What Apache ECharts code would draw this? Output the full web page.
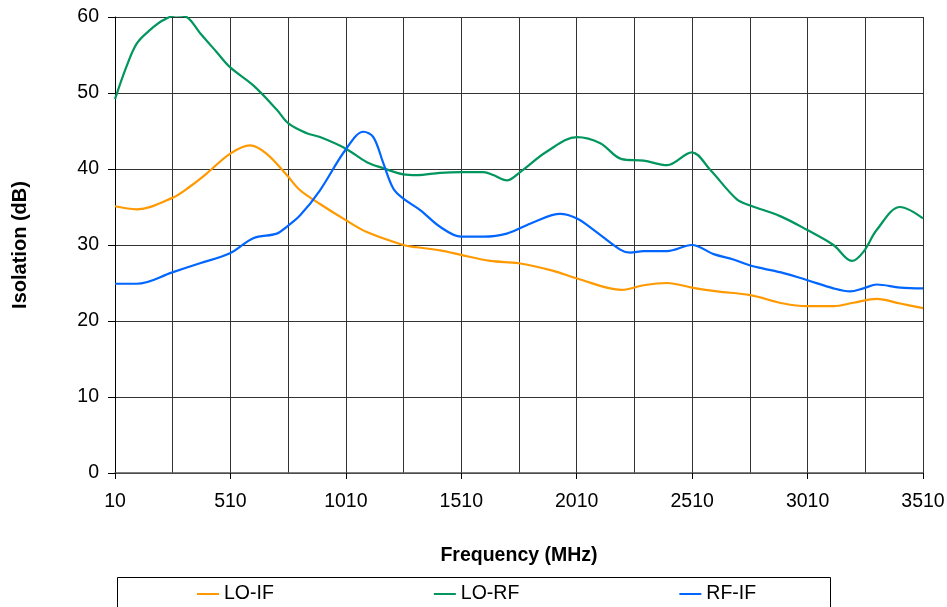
<!DOCTYPE html>
<html>
<head>
<meta charset="utf-8">
<script src="https://cdn.jsdelivr.net/npm/echarts@6/dist/echarts.min.js"></script>
<style>
  html, body { margin: 0; padding: 0; background: #fff; }
  #chart { width: 947px; height: 607px; }
</style>
</head>
<body>
<div id="chart"></div>
<script>
// Isolation vs frequency

const seriesNames = ['LO-IF', 'LO-RF', 'RF-IF'];
const seriesColors = ['#ff9900', '#00965e', '#0066ff'];

// [frequency MHz, isolation dB]
const loIf = [
    [10, 35.1], [104, 34.7], [258, 36.2], [335, 37.7], [407, 39.4], [508, 42.0],
    [595, 43.1], [667, 42.0], [754, 39.2], [812, 37.2], [898, 35.4], [1008, 33.3],
    [1101, 31.7], [1259, 30.0], [1317, 29.7], [1418, 29.3], [1509, 28.7], [1635, 27.9],
    [1759, 27.6], [1909, 26.6], [2011, 25.6], [2205, 24.1], [2300, 24.7], [2401, 25.0],
    [2509, 24.4], [2617, 23.9], [2762, 23.4], [2906, 22.3], [3007, 21.95], [3122, 21.95],
    [3209, 22.4], [3310, 22.9], [3411, 22.3], [3510, 21.7]
];

const loRf = [
    [10, 49.2], [60, 53.5], [104, 56.5], [162, 58.3], [220, 59.6], [275, 60.2],
    [320, 60.0], [378, 57.9], [450, 55.4], [508, 53.4], [609, 51.0], [711, 47.8], [761, 46.0],
    [841, 44.7], [898, 44.2], [1008, 42.7], [1101, 40.9], [1173, 40.1], [1259, 39.3],
    [1317, 39.2], [1418, 39.5], [1509, 39.6], [1606, 39.6], [1649, 39.2], [1707, 38.5],
    [1765, 39.6], [1881, 42.3], [2011, 44.2], [2112, 43.4], [2205, 41.3], [2300, 41.1],
    [2401, 40.5], [2509, 42.2], [2588, 39.9], [2704, 36.0], [2762, 35.2], [2891, 33.8],
    [3007, 32.0], [3122, 30.0], [3202, 27.9], [3252, 29.1], [3310, 32.0], [3411, 35.0],
    [3510, 33.5]
];

const rfIf = [
    [10, 24.9], [104, 24.9], [258, 26.4], [378, 27.6], [508, 28.9], [609, 30.9],
    [711, 31.5], [754, 32.4], [812, 33.9], [898, 37.2], [1008, 42.5], [1086, 44.9],
    [1129, 44.2], [1173, 40.7], [1216, 37.4], [1259, 36.1], [1332, 34.6], [1418, 32.4],
    [1509, 31.1], [1606, 31.1], [1707, 31.5], [1823, 33.0], [1938, 34.1], [2011, 33.5],
    [2083, 32.0], [2198, 29.4], [2242, 29.0], [2300, 29.2], [2401, 29.2], [2509, 30.0],
    [2603, 28.8], [2689, 28.1], [2762, 27.3], [2819, 26.9], [2906, 26.3], [3007, 25.4],
    [3122, 24.3], [3194, 23.9], [3252, 24.3], [3310, 24.8], [3411, 24.4], [3510, 24.3]
];

const xMin = 10, xMax = 3510, xStep = 500;
const yMin = 0, yMax = 60, yStep = 10;

const FONT = "'Liberation Sans', Arial, sans-serif";

const chart = echarts.init(document.getElementById('chart'), null, { renderer: 'canvas' });

const option = {
    backgroundColor: '#fff',
    animation: false,
    textStyle: { fontFamily: FONT, color: '#000' },
    grid: {
        left: 115, right: 24, top: 17, bottom: 134,
        containLabel: false,
        outerBoundsMode: 'none'
    },
    xAxis: {
        type: 'value',
        min: xMin, max: xMax, interval: xStep,
        name: 'Frequency (MHz)',
        nameLocation: 'middle',
        nameGap: 73,
        nameTextStyle: { fontFamily: FONT, fontSize: 19.5, fontWeight: 'bold', color: '#000' },
        axisLine: { show: true, lineStyle: { color: '#555', width: 1.5 } },
        axisTick: { show: true, length: 6, lineStyle: { color: '#000' } },
        axisLabel: {
            fontFamily: FONT, fontSize: 19.5, color: '#000', margin: 19,
            formatter: v => String(v)
        },
        splitLine: { show: true, lineStyle: { color: '#333', width: 1 } },
        minorTick: { show: false, splitNumber: 2 },
        minorSplitLine: { show: true, lineStyle: { color: '#333', width: 1 } }
    },
    yAxis: {
        type: 'value',
        min: yMin, max: yMax, interval: yStep,
        name: 'Isolation (dB)',
        nameLocation: 'middle',
        nameGap: 85,
        nameRotate: 90,
        nameTextStyle: { fontFamily: FONT, fontSize: 20, fontWeight: 'bold', color: '#000' },
        axisLine: { show: true, lineStyle: { color: '#000', width: 1 } },
        axisTick: { show: true, length: 7, lineStyle: { color: '#000' } },
        axisLabel: {
            fontFamily: FONT, fontSize: 19.5, color: '#000', margin: 16,
            formatter: v => String(v)
        },
        splitLine: { show: true, lineStyle: { color: '#333', width: 1 } }
    },
    legend: {
        data: seriesNames,
        left: 197,
        top: 584,
        padding: 0,
        itemGap: 160,
        itemWidth: 22,
        itemHeight: 2,
        icon: 'rect',
        textStyle: { fontFamily: FONT, fontSize: 19.5, color: '#000', lineHeight: 19 }
    },
    graphic: [{
        type: 'rect',
        silent: true,
        shape: { x: 117.5, y: 577.5, width: 713, height: 60 },
        style: { fill: 'none', stroke: '#000', lineWidth: 1 }
    }],
    series: [loIf, loRf, rfIf].map((data, i) => ({
        name: seriesNames[i],
        type: 'line',
        data: data,
        smooth: 0.35,
        showSymbol: false,
        clip: true,
        color: seriesColors[i],
        lineStyle: { color: seriesColors[i], width: 2.2 }
    }))
};

chart.setOption(option);
</script>
</body>
</html>
